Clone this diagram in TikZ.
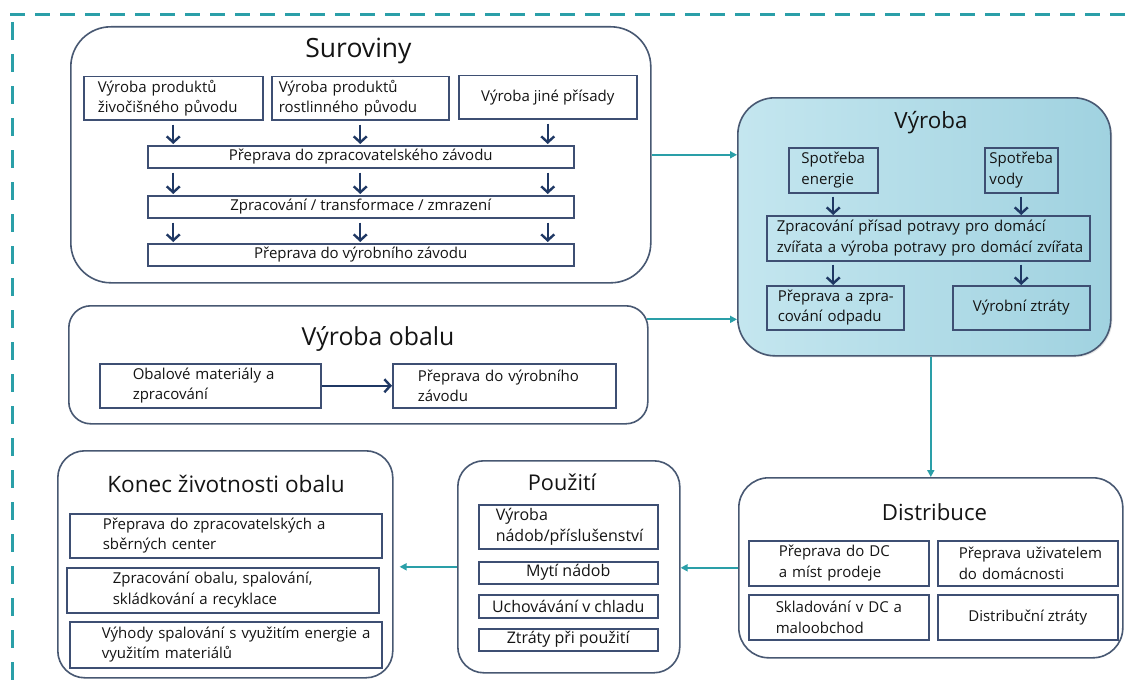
\documentclass[tikz,border=0pt]{standalone}
\usepackage{fontspec}
\setmainfont{Open Sans}
\usetikzlibrary{arrows.meta,calc,shadows}
\definecolor{tealc}{HTML}{2A9FA8}
\definecolor{navyc}{HTML}{1F3864}
\definecolor{outc}{HTML}{485872}
\definecolor{inc}{HTML}{3E4F73}
\definecolor{vA}{HTML}{C4E6EF}
\definecolor{vB}{HTML}{A0D2E0}
\definecolor{txt}{HTML}{141414}
% centred box: name x1 y1 x2 y2 style text
\newcommand\cbx[7]{%
  \node[#6, anchor=north west, minimum width={(#4)-(#2)}, minimum height={(#5)-(#3)}] (#1) at (#2,#3) {#7};}
% left-padded box: name x1 y1 x2 y2 pad style text
\newcommand\lbx[8]{%
  \pgfmathsetmacro\bxtw{(#4)-(#2)-2*(#6)}%
  \node[#7, anchor=north west, inner xsep=#6pt, text width=\bxtw pt, align=left,
        minimum width={(#4)-(#2)}, minimum height={(#5)-(#3)}] (#1) at (#2,#3) {#8};}
\newcommand\tline[1]{\mbox{#1}}
\begin{document}
\begin{tikzpicture}[x=1pt,y=-1pt,
  outer/.style={draw=outc, line width=1.6pt, rounded corners=#1, inner sep=0pt},
  ibox/.style={draw=inc, line width=1.5pt, inner ysep=1pt, inner xsep=2pt, text=txt,
               align=left, font=\fontsize{15}{20.5}\selectfont},
  ibig/.style={ibox, font=\fontsize{16}{21}\selectfont},
  ttl/.style={font=\fontsize{#1}{#1}\selectfont, text=txt, inner sep=0pt, anchor=base},
  narr/.style={draw=navyc, line width=2.4pt, -{Straight Barb[length=6pt,width=13pt]}},
  conn/.style={draw=tealc, line width=2.2pt, -{Triangle[length=7pt,width=7pt]}},
  frame/.style={draw=tealc, line width=3pt}
]
\path[use as bounding box, fill=white] (0,0) rectangle (1127,693);

% dashed frame
\draw[frame, dash pattern=on 15pt off 10pt] (10,15) -- (1127,15);
\draw[frame, dash pattern=on 18pt off 14pt] (12,22) -- (12,693);

% ---------- Suroviny ----------
\cbx{sur}{70}{26}{650}{282}{outer=40}{}
\node[ttl=26.5] (surT) at (358.5,58) {Suroviny};
\lbx{s1}{83}{76}{262}{119}{14}{ibox}{\tline{Výroba produktů}\\\tline{živočišného původu}}
\lbx{s2}{271}{76}{448}{119}{7}{ibox}{\tline{Výroba produktů}\\\tline{rostlinného původu}}
\cbx{s3}{458}{75}{636}{118}{ibox}{Výroba jiné přísady}
\cbx{p1}{147}{145}{573}{167}{ibox}{Přeprava do zpracovatelského závodu}
\cbx{p2}{147}{195}{573}{217}{ibox}{Zpracování / transformace / zmrazení}
\cbx{p3}{147}{243}{573}{265}{ibox}{Přeprava do výrobního závodu}
\foreach \a in {s1,s2,s3}{
  \draw[narr, shorten <=4pt, shorten >=1pt] (\a.south) -- (p1.north -| \a.south);
  \draw[narr, shorten <=4pt, shorten >=1pt] (p1.south -| \a.south) -- (p2.north -| \a.south);
  \draw[narr, shorten <=4pt, shorten >=1pt] (p2.south -| \a.south) -- (p3.north -| \a.south);
}

% ---------- Výroba ----------
\cbx{vyr}{737}{97}{1110}{355}{outer=37, left color=vA, right color=vB,
     drop shadow={opacity=0.2, shadow xshift=1.5pt, shadow yshift=-1.5pt}}{}
\node[ttl=22.4] (vyrT) at (931,128) {Výroba};
\cbx{se}{788}{147}{877}{192}{ibox}{Spotřeba\\energie}
\cbx{sv}{984}{147}{1057}{192}{ibox}{Spotřeba\\vody}
\lbx{zp}{766}{215}{1089}{260}{10}{ibox}{\tline{Zpracování přísad potravy pro domácí}\\\tline{zvířata a výroba potravy pro domácí zvířata}}
\lbx{po}{766}{285}{903}{329}{11}{ibox}{\tline{Přeprava a zpra-}\\\tline{cování odpadu}}
\cbx{vz}{952}{285}{1089}{329}{ibox}{Výrobní ztráty}
\draw[narr, shorten <=3pt] (se.south) -- (zp.north -| se.south);
\draw[narr, shorten <=3pt] (sv.south) -- (zp.north -| sv.south);
\draw[narr, shorten <=3pt] (zp.south -| se.south) -- (po.north -| se.south);
\draw[narr, shorten <=3pt] (zp.south -| sv.south) -- (vz.north -| sv.south);

% ---------- Výroba obalu ----------
\cbx{obal}{68}{305}{647}{423}{outer=22}{}
\node[ttl=24.8] (obalT) at (378,345) {Výroba obalu};
\lbx{o1}{99}{363}{320}{407}{33}{ibox}{\tline{Obalové materiály a}\\\tline{zpracování}}
\lbx{o2}{392}{363}{615}{407}{25}{ibox}{\tline{Přeprava do výrobního}\\\tline{závodu}}
\draw[narr] (o1.east) -- (o2.west);

% ---------- Konec životnosti obalu ----------
\cbx{kon}{57}{450}{392}{677}{outer=27}{}
\node[ttl=22.6] (konT) at (226,492) {Konec životnosti obalu};
\lbx{k1}{69}{513}{381}{557}{33}{ibox}{\tline{Přeprava do zpracovatelských a}\\\tline{sběrných center}}
\lbx{k2}{66}{567}{378}{612}{46}{ibox}{\tline{Zpracování obalu, spalování,}\\\tline{skládkování a recyklace}}
\lbx{k3}{69}{621}{381}{667}{32}{ibox}{\tline{Výhody spalování s využitím energie a}\\\tline{využitím materiálů}}

% ---------- Použití ----------
\cbx{pou}{457}{460}{679}{672}{outer=26}{}
\node[ttl=21.7] (pouT) at (562,490) {Použití};
\lbx{u1}{478}{504}{657}{548}{17}{ibig}{\tline{Výroba}\\\tline{nádob/příslušenství}}
\cbx{u2}{478}{561}{657}{583}{ibig}{Mytí nádob}
\cbx{u3}{478}{594}{657}{617}{ibig}{Uchovávání v chladu}
\cbx{u4}{478}{628}{657}{650}{ibig}{Ztráty při použití}

% ---------- Distribuce ----------
\cbx{dis}{738}{477}{1122}{657}{outer=30}{}
\node[ttl=22.2] (disT) at (934.5,520) {Distribuce};
\lbx{d1}{748}{540}{928}{585}{30}{ibox}{\tline{Přeprava do DC}\\\tline{a míst prodeje}}
\lbx{d2}{937}{540}{1117}{585}{21}{ibox}{\tline{Přeprava uživatelem}\\\tline{do domácnosti}}
\lbx{d3}{748}{594}{928}{639}{27}{ibox}{\tline{Skladování v DC a}\\\tline{maloobchod}}
\cbx{d4}{937}{594}{1117}{639}{ibox}{Distribuční ztráty}

% ---------- connectors ----------
\draw[conn] (sur.east) -- (sur.east -| vyr.west);
\coordinate (obalOut) at ($(obal.north east)!0.12!(obal.south east)+(-2,0)$);
\draw[conn] (obalOut) -- (obalOut -| vyr.west);
\draw[conn] (dis.north |- vyr.south) -- (dis.north);
\draw[conn] (dis.west) -- (dis.west -| pou.east);
\draw[conn, shorten >=6pt] (pou.west) -- (pou.west -| kon.east);
\end{tikzpicture}
\end{document}
